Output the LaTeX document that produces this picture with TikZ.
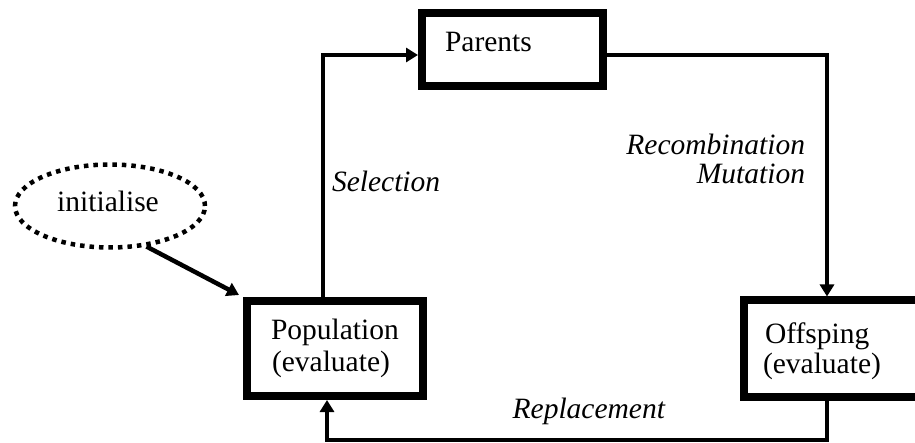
\documentclass[tikz,border=0pt]{standalone}
\usepackage{fontspec}
\setmainfont{Liberation Serif}
\usetikzlibrary{shapes.geometric,arrows.meta}
\tikzset{
  every node/.style={font=\fontsize{29.5}{27}\selectfont, inner sep=0pt, outer sep=0pt},
  boxnode/.style={draw, line width=8pt, rectangle, outer sep=4pt},
  conn/.style={line width=4.5pt, -{Triangle[length=12pt,width=14pt]}},
  lbl/.style={font=\fontsize{29.5}{27}\selectfont\itshape},
  dotted ellipse/.style={draw, ellipse, line width=4.5pt, dash pattern=on 4.5pt off 5pt, minimum width=190pt, minimum height=83pt, outer sep=2.25pt}
}
\begin{document}
\begin{tikzpicture}[x=1pt,y=-1pt]
\useasboundingbox (0,0) rectangle (915,443);
\clip (0,0) rectangle (915,443);
% boxes
\node[boxnode, minimum width=176pt, minimum height=95pt] (pop) at (335,348.5) {};
\node[boxnode, minimum width=181pt, minimum height=72.5pt] (par) at (512.5,49.75) {};
\node[boxnode, minimum width=177pt, minimum height=96pt] (off) at (832.5,348.5) {};
\node[dotted ellipse] (ini) at (110,206) {};
% texts
\node[anchor=base west] (poptxt1) at (271,340) {Population};
\node[anchor=base west] (poptxt2) at (272,371) {(evaluate)};
\node[anchor=base west] (partxt) at (445,52) {Parents};
\node[anchor=base west] (offtxt1) at (765,344) {Offsping};
\node[anchor=base west] (offtxt2) at (763,373) {(evaluate)};
\node[anchor=base] (initxt) at (108,212) {initialise};
% labels
\node[lbl, anchor=base west] (sel) at (332,192) {Selection};
\node[lbl, anchor=base east] (rec) at (805,155) {Recombination};
\node[lbl, anchor=base east] (mut) at (805,184) {Mutation};
\node[lbl, anchor=base east] (rep) at (665,418) {Replacement};
% coordinates
\coordinate (c1) at (323,55);
\coordinate (c2) at (827,55);
\coordinate (c3) at (827,440);
\coordinate (c4) at (327,440);
% connectors
\draw[conn] (pop.north -| c1) -- (c1) -- (c1 -| par.west);
\draw[conn] (c2 -| par.east) -- (c2) -- (c2 |- off.north);
\draw[conn] (off.south -| c3) -- (c3) -- (c4) -- (c4 |- pop.south);
\draw[conn] (ini.-48) -- ([xshift=-4pt,yshift=2pt]pop.north west);
\end{tikzpicture}
\end{document}
